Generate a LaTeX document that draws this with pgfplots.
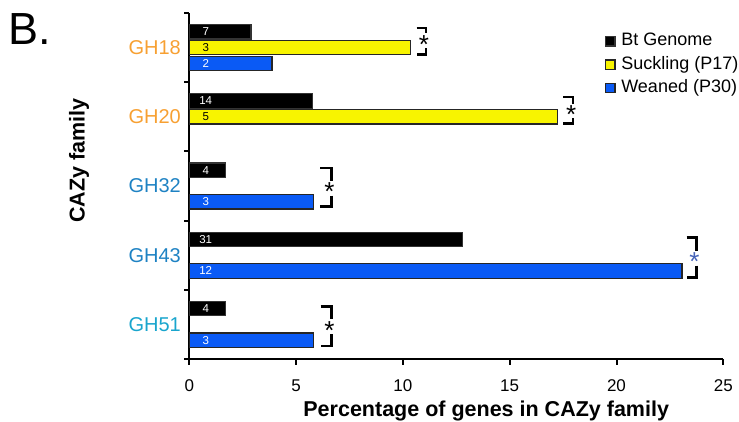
\documentclass[border=0pt]{standalone}
\usepackage{fontspec}
\setmainfont{Liberation Sans}
\usepackage{pgfplots}
\pgfplotsset{compat=1.18}
\usepackage{pgfplotstable}
\definecolor{barblue}{RGB}{10,90,245}
\definecolor{baryellow}{RGB}{248,244,0}
\definecolor{lblorange}{RGB}{247,160,50}
\definecolor{lblblue}{RGB}{30,130,195}
\definecolor{lblcyan}{RGB}{25,165,205}
\definecolor{astblue}{RGB}{70,100,185}

\pgfplotstableread{
c v n
5 2.89 7
4 5.77 14
3 1.69 4
2 12.79 31
1 1.69 4
}\tblack
\pgfplotstableread{
c v n
5 10.36 3
4 17.24 5
}\tyellow
\pgfplotstableread{
c v n
5 3.87 2
3 5.80 3
2 23.07 12
1 5.80 3
}\tblue

% significance bracket: x0 x1 ytop ybot yast colour
\newcommand{\sig}[6]{%
  \draw[line width=2.4pt, line join=miter] (axis cs:#1,#3) -- (axis cs:#2,#3) -- (axis cs:#2,#5+0.08);
  \draw[line width=2.4pt, line join=miter] (axis cs:#2,#5-0.13) -- (axis cs:#2,#4) -- (axis cs:#1,#4);
  \node[text=#6, font=\fontsize{26}{26}\selectfont, anchor=base, inner sep=0pt]
     at ([xshift=-2pt,yshift=-14pt]axis cs:#2,#5) {*};
}

\begin{document}
\begin{tikzpicture}
\useasboundingbox (-189.3pt,-63pt) rectangle (549.7pt,359pt);
\begin{axis}[
  at={(0pt,0pt)}, anchor=south west,
  scale only axis, width=534pt, height=346pt,
  xmin=0, xmax=25, ymin=0.5, ymax=5.5,
  clip=false,
  axis lines=left,
  axis line style={-, line width=2.2pt, black},
  xtick={0,5,10,15,20,25},
  ytick={1,2,3,4,5},
  yticklabels={\textcolor{lblcyan}{GH51},\textcolor{lblblue}{GH43},\textcolor{lblblue}{GH32},\textcolor{lblorange}{GH20},\textcolor{lblorange}{GH18}},
  minor ytick={0.5,1.5,2.5,3.5,4.5,5.5},
  tick align=outside,
  major tick length=6pt, minor tick length=5pt,
  tick style={black, line width=2pt},
  every major y tick/.append style={draw=none},
  /pgf/number format/assume math mode=true,
  xticklabel style={font=\fontsize{17}{18}\selectfont, yshift=-11pt},
  yticklabel style={font=\fontsize{20}{24}\selectfont, xshift=1pt},
  xlabel={Percentage of genes in CAZy family},
  xlabel style={at={(rel axis cs:0.556,-0.1676)}, anchor=base, font=\bfseries\fontsize{21.5}{24}\selectfont},
  ylabel={CAZy family},
  ylabel style={at={(rel axis cs:-0.196,0.573)}, anchor=base, rotate=0, font=\bfseries\fontsize{21.5}{24}\selectfont},
  legend image code/.code={\draw[#1, line width=1.2pt] (0pt,-4.6pt) rectangle (9.2pt,4.6pt); \path[draw=none, fill=none] (0pt,0pt) -- (14.5pt,0pt);},
  legend style={at={(rel axis cs:0.7785,0.946)}, anchor=north west, draw=none, fill=none,
     inner sep=0pt, row sep=4.2pt,
     font=\fontsize{18}{21}\selectfont,
     nodes={inner sep=1pt, text height=13pt, text depth=4pt}},
  legend cell align=left,
  every node near coord/.append style={anchor=center, font=\fontsize{11.5}{12}\selectfont},
]
\addplot[xbar, bar width=0.21, bar shift=0pt, fill=black, draw=black!80, line width=1.2pt]
  table[x=v, y expr=\thisrow{c}+0.228] {\tblack};
\addplot[xbar, bar width=0.21, bar shift=0pt, fill=baryellow, draw=black!85, line width=1.2pt]
  table[x=v, y=c] {\tyellow};
\addplot[xbar, bar width=0.21, bar shift=0pt, fill=barblue, draw=black!85, line width=1.2pt]
  table[x=v, y expr=\thisrow{c}-0.228] {\tblue};
\legend{Bt Genome, Suckling (P17), Weaned (P30)}

\addplot[draw=none, mark=none, forget plot, nodes near coords, point meta=explicit symbolic,
   every node near coord/.append style={text=white}]
  table[x expr=0.77, y expr=\thisrow{c}+0.228, meta=n] {\tblack};
\addplot[draw=none, mark=none, forget plot, nodes near coords, point meta=explicit symbolic,
   every node near coord/.append style={text=black}]
  table[x expr=0.77, y=c, meta=n] {\tyellow};
\addplot[draw=none, mark=none, forget plot, nodes near coords, point meta=explicit symbolic,
   every node near coord/.append style={text=white}]
  table[x expr=0.77, y expr=\thisrow{c}-0.228, meta=n] {\tblue};

\sig{10.64}{11.08}{5.279}{4.903}{5.124}{black}
\sig{17.50}{17.97}{4.290}{3.906}{4.108}{black}
\sig{6.12}{6.66}{3.256}{2.701}{2.990}{black}
\sig{23.28}{23.74}{2.253}{1.675}{1.978}{astblue}
\sig{6.15}{6.66}{1.256}{0.688}{0.991}{black}
\end{axis}
\node[anchor=base west, inner sep=0pt, font=\fontsize{45}{45}\selectfont] at (-181pt,314pt) {B.};
\end{tikzpicture}
\end{document}
